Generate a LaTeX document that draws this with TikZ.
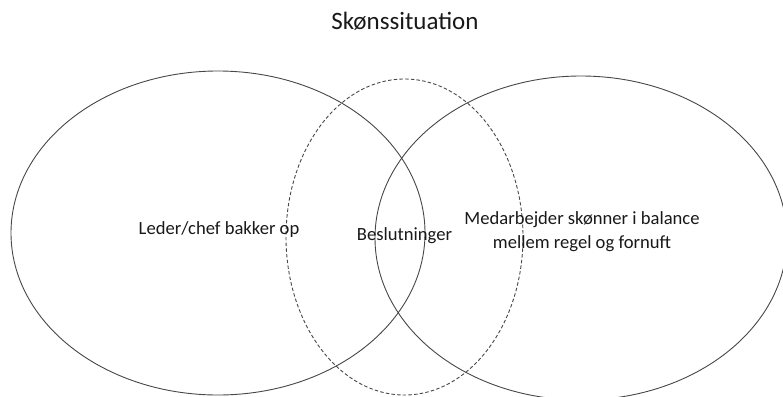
\documentclass[tikz,border=0pt]{standalone}
\usepackage{fontspec}
\setmainfont{Carlito}
\usetikzlibrary{shapes.geometric}
\begin{document}
\begin{tikzpicture}[x=1pt,y=-1pt,
  ring/.style={draw=black!72,line width=0.9pt},
  dashring/.style={ring,dash pattern=on 3.5pt off 2.2pt},
  label/.style={text=black!90,font=\fontsize{18.6}{24}\selectfont,align=center,inner sep=0pt},
  heading/.style={text=black!90,font=\fontsize{25}{30}\selectfont,inner sep=0pt}]
  \useasboundingbox (0,0) rectangle (783,396);
  \clip (0,0) rectangle (783,396);
  % the three overlapping areas
  \draw[ring] (218,233) ellipse [x radius=207, y radius=162];
  \draw[ring] (581,238) ellipse [x radius=206, y radius=162];
  \draw[dashring] (404.5,237) ellipse [x radius=118.5, y radius=158];
  % labels
  \node[heading] (title) at (405,21) {Skønssituation};
  \node[label] (leader) at (219,230) {Leder/chef bakker op};
  \node[label] (decisions) at (404.5,236) {Beslutninger};
  \node[label] (staff) at (582,232) {Medarbejder skønner i balance\\mellem regel og fornuft};
\end{tikzpicture}
\end{document}
